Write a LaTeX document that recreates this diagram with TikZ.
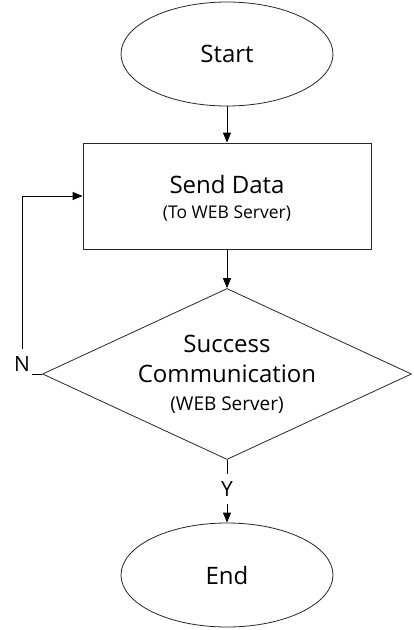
\documentclass[tikz,border=0pt]{standalone}
\usepackage{fontspec}
\setmainfont{Open Sans}
\usetikzlibrary{shapes.geometric,arrows.meta}
\begin{document}
\begin{tikzpicture}[x=1pt,y=-1pt,
  shapeline/.style={draw=black!85, line width=0.8pt},
  term/.style={shapeline, ellipse, minimum width=212pt, minimum height=104pt, inner sep=0pt},
  proc/.style={shapeline, rectangle, minimum width=288pt, minimum height=106pt, inner sep=0pt, align=center},
  dec/.style={shapeline, diamond, minimum width=369pt, minimum height=171pt, inner sep=0pt},
  bigtxt/.style={font=\fontsize{24}{28}\selectfont},
  arr/.style={draw=black, line width=0.9pt, -{Triangle[width=8pt,length=10pt]}},
  lbl/.style={fill=white, inner sep=1pt, font=\fontsize{21}{24}\selectfont}
]
\useasboundingbox (0,0) rectangle (413,630);
\node[term, bigtxt] (start) at (227,54) {Start};
\node[proc] (send) at (227,196) {};
\node[bigtxt, anchor=base] (sendt) at (227,193) {Send Data};
\node[font=\fontsize{17.5}{20}\selectfont, anchor=base] (sends) at (227,218) {(To WEB Server)};
\node[dec] (dec) at (227,374) {};
\node[bigtxt, anchor=base] (dect1) at (227,352) {Success};
\node[bigtxt, anchor=base] (dect2) at (227,382) {Communication};
\node[font=\fontsize{19}{22}\selectfont, anchor=base] (dect3) at (227,410) {(WEB Server)};
\node[term, bigtxt] (end) at (227,575) {End};
\coordinate (nc) at (22,374);
\coordinate (nt) at (22,196);
\draw[arr] (start) -- (send);
\draw[arr] (send) -- (dec);
\draw[arr] (dec) -- (end);
\draw[arr] (dec.west) -- (nc) -- (nt) -- (send.west);
\node[lbl, minimum width=20pt, minimum height=30pt] (nlab) at (22,364) {N};
\node[lbl, minimum width=20pt, minimum height=30pt] (ylab) at (227,489) {Y};
\end{tikzpicture}
\end{document}
